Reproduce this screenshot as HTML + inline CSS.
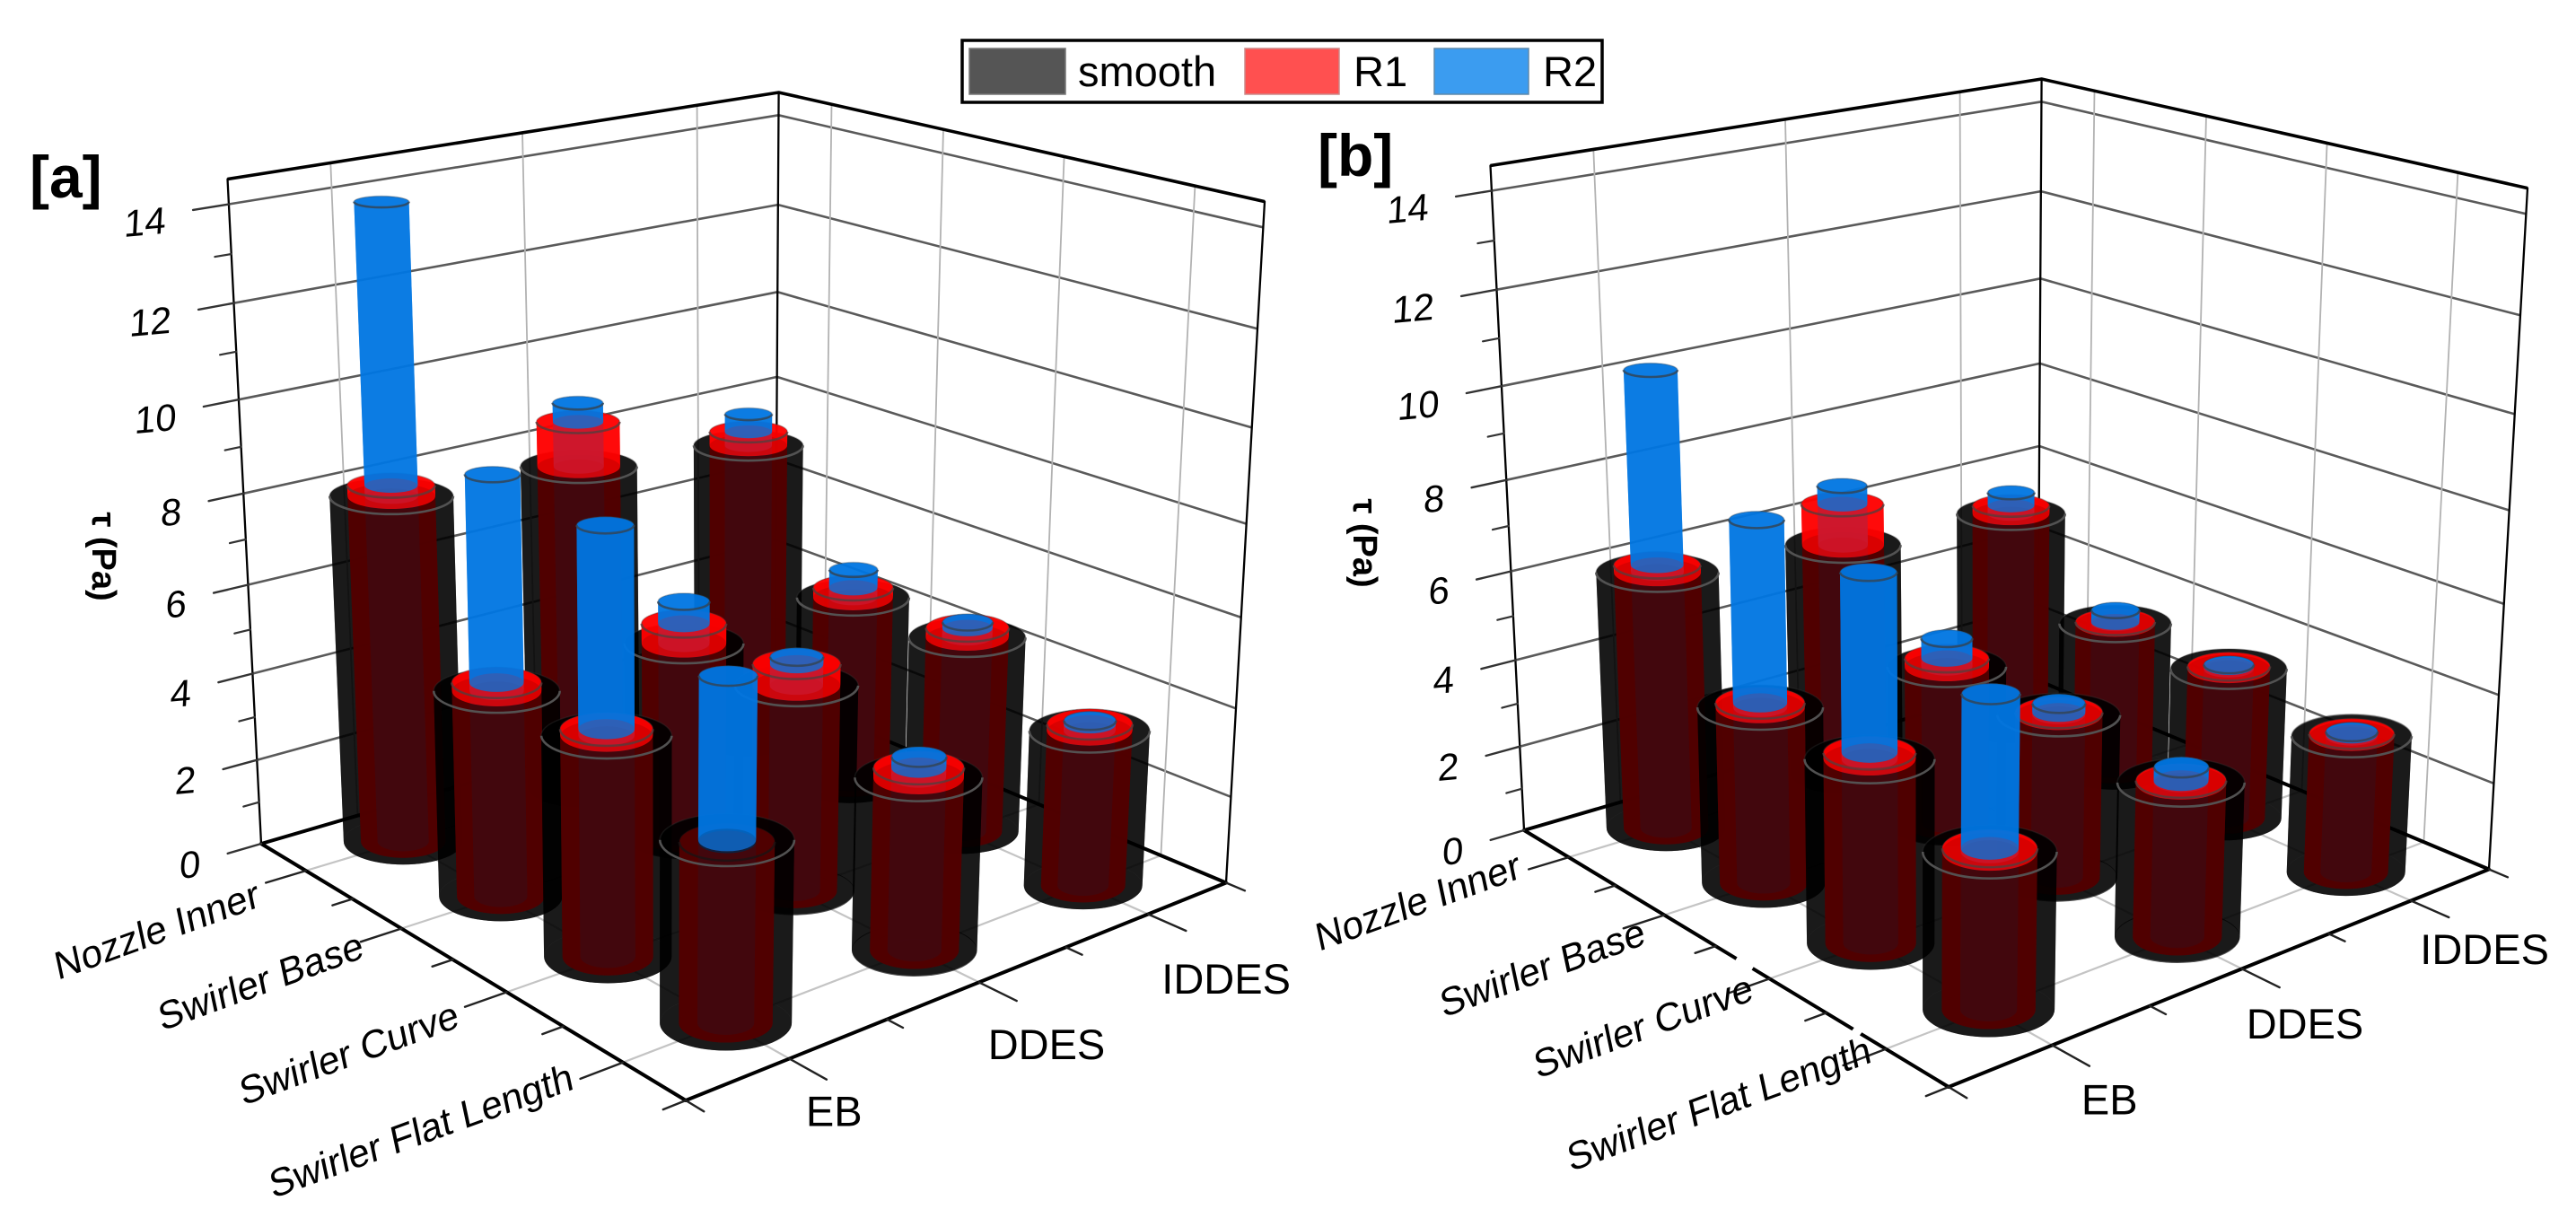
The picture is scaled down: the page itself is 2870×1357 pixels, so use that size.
<!DOCTYPE html>
<html lang="en">
<head>
<meta charset="utf-8">
<title>Wall shear stress 3D bars</title>
<style>
html,body{margin:0;padding:0;background:#fff;}
svg{display:block;font-family:"Liberation Sans",sans-serif;}
</style>
</head>
<body>
<svg id="chart" xmlns="http://www.w3.org/2000/svg" width="2870" height="1357" viewBox="0 0 2870 1357">
  <rect width="2870" height="1357" fill="#fff"/>
  <g id="panelA"></g>
  <g id="panelB" transform="translate(1407,-15)"></g>
  <line x1="1934" y1="1069" x2="1952" y2="1080" stroke="#fff" stroke-width="9"/>
  <line x1="2065" y1="1146" x2="2073" y2="1152" stroke="#fff" stroke-width="9"/>
  <text x="33" y="220" font-size="66" font-weight="bold" fill="#000">[a]</text>
  <text x="1468" y="196" font-size="66" font-weight="bold" fill="#000">[b]</text>
  <text transform="translate(103,620) rotate(90)" text-anchor="middle" font-size="38" font-weight="bold" fill="#000">τ (Pa)</text>
  <text transform="translate(1508,605) rotate(90)" text-anchor="middle" font-size="38" font-weight="bold" fill="#000">τ (Pa)</text>
  <g>
    <rect x="1072" y="45" width="713" height="69" fill="#fff" stroke="#000" stroke-width="3.5"/>
    <rect x="1080" y="54" width="107" height="51" fill="#555" stroke="#777" stroke-width="1.5"/>
    <text x="1201" y="96" font-size="47" fill="#000">smooth</text>
    <rect x="1387" y="54" width="105" height="51" fill="#ff5050" stroke="#c88" stroke-width="1.5"/>
    <text x="1508" y="96" font-size="47" fill="#000">R1</text>
    <rect x="1598" y="54" width="105" height="51" fill="#3b9cf0" stroke="#5e88aa" stroke-width="1.5"/>
    <text x="1719" y="96" font-size="47" fill="#000">R2</text>
  </g>
</svg>
<script>
// ---- chart data (rows: EB, DDES, IDDES; columns: categories) ----
const categories = ["Nozzle Inner", "Swirler Base", "Swirler Curve", "Swirler Flat Length"];
const methods = ["EB", "DDES", "IDDES"];
const yTickValues = [0, 2, 4, 6, 8, 10, 12, 14];
const yTickLabels = ["0", "2", "4", "6", "8", "10", "12", "14"];
const yMinorTicks = [1, 3, 5, 7, 9, 11, 13];
const smoothA = [[7.9, 4.65, 4.81, 3.86], [7.61, 4.54, 4.66, 3.81], [7.19, 4.51, 4.58, 3.55]];
const r1A = [[8.13, 4.83, 4.95, 3.82], [8.61, 4.99, 5.13, 4.02], [7.51, 4.74, 4.8, 3.7]];
const r2A = [[14.02, 9.24, 9.11, 7.15], [9.03, 5.49, 5.29, 4.25], [7.92, 5.16, 4.93, 3.78]];
const smoothB = [[5.93, 3.99, 4.03, 3.34], [5.51, 3.7, 3.71, 3.41], [5.25, 3.57, 3.55, 3.13]];
const r1B = [[6.09, 4.09, 4.16, 3.41], [6.45, 3.89, 3.77, 3.45], [5.44, 3.61, 3.61, 3.18]];
const r2B = [[10.3, 8.02, 7.9, 6.53], [6.87, 4.35, 3.97, 3.74], [5.76, 3.89, 3.65, 3.23]];

// ---- projection: box corners on screen (panel coordinates) ----
const NS = "http://www.w3.org/2000/svg";
const Y_TOP = 14.5;
function homography(p00, p10, p11, p01) {
  const dx1 = p10[0] - p11[0], dx2 = p01[0] - p11[0], sx = p00[0] - p10[0] + p11[0] - p01[0];
  const dy1 = p10[1] - p11[1], dy2 = p01[1] - p11[1], sy = p00[1] - p10[1] + p11[1] - p01[1];
  const den = dx1 * dy2 - dx2 * dy1;
  const g = (sx * dy2 - dx2 * sy) / den, h = (dx1 * sy - sx * dy1) / den;
  const a = p10[0] - p00[0] + g * p10[0], b = p01[0] - p00[0] + h * p01[0], c = p00[0];
  const d = p10[1] - p00[1] + g * p10[1], e = p01[1] - p00[1] + h * p01[1], f = p00[1];
  return function (u, v) {
    const w = g * u + h * v + 1;
    return [(a * u + b * v + c) / w, (d * u + e * v + f) / w];
  };
}
const floorMap = homography([291, 940], [764, 1226], [1366, 983.5], [863.5, 773]);
const topMap = homography([253.5, 199.5], [768.5, 362.5], [1409, 224.6], [867.6, 103]);
function warp(val) {
  const w = val / Y_TOP;
  return w * (0.9 + 0.1 * w);
}
function project(u, v, val) {
  const a = floorMap(u, v), b = topMap(u, v), t = warp(val);
  return [a[0] + (b[0] - a[0]) * t, a[1] + (b[1] - a[1]) * t];
}
function make(tag, attrs, parent) {
  const el = document.createElementNS(NS, tag);
  for (const k in attrs) el.setAttribute(k, attrs[k]);
  parent.appendChild(el);
  return el;
}
function lineAttrs(a, b, color, width) {
  return { x1: a[0].toFixed(1), y1: a[1].toFixed(1), x2: b[0].toFixed(1), y2: b[1].toFixed(1), stroke: color, "stroke-width": width, "stroke-linecap": "round" };
}
function polyAttrs(points, color, width) {
  return { points: points.map(function (p) { return p[0].toFixed(1) + "," + p[1].toFixed(1); }).join(" "), fill: "none", stroke: color, "stroke-width": width, "stroke-linejoin": "round" };
}
function catU(i) { return (i + 0.5) / categories.length; }
function methodV(j) { return (j + 0.5) / methods.length; }

// ---- cylinders ----
const SERIES_STYLE = [
  { name: "smooth", radius: 1, fill: "#000000", alpha: 0.68, rim: "rgba(85,85,85,0.95)" },
  { name: "r1", radius: 0.71, fill: "#ff0000", alpha: 0.80, rim: "rgba(90,60,60,0.75)" },
  { name: "r2", radius: 0.43, fill: "#0076e2", alpha: 0.78, rim: "rgba(50,70,90,0.8)" }
];
function ring(u, v, val, radius) {
  const c = project(u, v, val);
  const base = 66.98 + 9.6 * u - 11.25 * v;
  const rx = radius * base * (1 + 0.075 * warp(val));
  const ratio = Math.min(0.42, 0.29 + 0.00026 * (c[1] - 550));
  return { x: c[0], y: c[1], rx: rx, ry: rx * ratio };
}
function facePath(low, high, front) {
  const s1 = front ? 0 : 1, s2 = front ? 1 : 0;
  return "M" + (high.x - high.rx).toFixed(1) + " " + high.y.toFixed(1) +
    "A" + high.rx.toFixed(1) + " " + high.ry.toFixed(1) + " 0 0 " + s1 + " " + (high.x + high.rx).toFixed(1) + " " + high.y.toFixed(1) +
    "L" + (low.x + low.rx).toFixed(1) + " " + low.y.toFixed(1) +
    "A" + low.rx.toFixed(1) + " " + low.ry.toFixed(1) + " 0 0 " + s2 + " " + (low.x - low.rx).toFixed(1) + " " + low.y.toFixed(1) + "Z";
}
function lowerArc(r) {
  return "M" + (r.x - r.rx).toFixed(1) + " " + r.y.toFixed(1) +
    "A" + r.rx.toFixed(1) + " " + r.ry.toFixed(1) + " 0 0 0 " + (r.x + r.rx).toFixed(1) + " " + r.y.toFixed(1);
}
function drawBar(parent, i, j, heights) {
  const u = catU(i), v = methodV(j);
  const group = make("g", {}, parent);
  
  
  SERIES_STYLE.forEach(function (st) {
    const r = ring(u, v, 0, st.radius);
    const disc = make("ellipse", { cx: r.x.toFixed(1), cy: r.y.toFixed(1), rx: r.rx.toFixed(1), ry: r.ry.toFixed(1), fill: st.fill, "fill-opacity": st.alpha }, group);
    
    
  });
  const levels = Array.from(new Set(heights)).sort(function (a, b) { return a - b; });
  let prev = 0;
  levels.forEach(function (level) {
    const active = [];
    SERIES_STYLE.forEach(function (st, k) { if (heights[k] >= level) active.push(k); });
    active.forEach(function (k) {
      const st = SERIES_STYLE[k];
      const back = make("path", { d: facePath(ring(u, v, prev, st.radius), ring(u, v, level, st.radius), false), fill: st.fill, "fill-opacity": st.alpha }, group);
      
      
    });
    active.slice().reverse().forEach(function (k) {
      const st = SERIES_STYLE[k];
      const front = make("path", { d: facePath(ring(u, v, prev, st.radius), ring(u, v, level, st.radius), true), fill: st.fill, "fill-opacity": st.alpha }, group);
      
      
    });
    active.slice().reverse().forEach(function (k) {
      if (heights[k] !== level) return;
      const st = SERIES_STYLE[k];
      const r = ring(u, v, level, st.radius);
      const cap = make("ellipse", { cx: r.x.toFixed(1), cy: r.y.toFixed(1), rx: r.rx.toFixed(1), ry: r.ry.toFixed(1), fill: st.fill, "fill-opacity": st.alpha, stroke: "rgba(60,60,60,0.3)", "stroke-width": 1.5 }, group);
      
      
      const rim = make("path", { d: lowerArc(r), fill: "none", stroke: st.rim, "stroke-width": 2.6 }, group);
      
      
    });
    prev = level;
  });
}

// ---- panel ----
function buildPanel(parent, smooth, r1, r2, catOffsets, methodOffsets) {
  // walls
  yTickValues.forEach(function (val) {
    const g = make("polyline", polyAttrs([project(0, 0, val), project(0, 1, val), project(1, 1, val)], "#5a5a5a", 2.6), parent);
    
    
  });
  methods.forEach(function (m, j) {
    const g = make("line", lineAttrs(project(0, methodV(j), 0), project(0, methodV(j), Y_TOP), "#b2b2b2", 1.8), parent);
    
    
    const f = make("line", lineAttrs(project(0, methodV(j), 0), project(1, methodV(j), 0), "#c4c4c4", 2.2), parent);
    
    
  });
  categories.forEach(function (c, i) {
    const g = make("line", lineAttrs(project(catU(i), 1, 0), project(catU(i), 1, Y_TOP), "#b2b2b2", 1.8), parent);
    
    
    const f = make("line", lineAttrs(project(catU(i), 0, 0), project(catU(i), 1, 0), "#c4c4c4", 2.2), parent);
    
    
  });
  // frame
  const topEdge = make("polyline", polyAttrs([project(0, 0, Y_TOP), project(0, 1, Y_TOP), project(1, 1, Y_TOP)], "#000", 3.6), parent);
  
  
  [[0, 0], [0, 1], [1, 1]].forEach(function (q) {
    const edge = make("line", lineAttrs(project(q[0], q[1], 0), project(q[0], q[1], Y_TOP), "#000", 2.3), parent);
    
    
  });
  const floorEdge = make("polygon", polyAttrs([project(0, 0, 0), project(1, 0, 0), project(1, 1, 0), project(0, 1, 0)], "#000", 4), parent);
  
  

  // y ticks
  yTickValues.forEach(function (val, k) {
    const end = project(0, -0.056, val);
    const t = make("line", lineAttrs(project(0, 0, val), end, "#333", 2.4), parent);
    
    
    const lab = make("text", { transform: "translate(" + (end[0] - 31).toFixed(1) + "," + (end[1] + 26).toFixed(1) + ") rotate(-5) skewX(-8)", "text-anchor": "end", "font-size": 42, fill: "#000" }, parent);
    lab.textContent = yTickLabels[k];
    
    
  });
  yMinorTicks.forEach(function (val) {
    const t = make("line", lineAttrs(project(0, 0, val), project(0, -0.026, val), "#333", 2.2), parent);
    
    
  });
  // category ticks and labels
  categories.forEach(function (c, i) {
    const end = project(catU(i), -0.066, 0);
    const t = make("line", lineAttrs(project(catU(i), 0, 0), end, "#222", 2.4), parent);
    
    
    if (i > 0) {
      const mt = make("line", lineAttrs(project(i / categories.length, 0, 0), project(i / categories.length, -0.033, 0), "#222", 2.4), parent);
      
      
    }
    const lab = make("text", { transform: "translate(" + (end[0] + catOffsets[i][0]).toFixed(1) + "," + (end[1] + catOffsets[i][1]).toFixed(1) + ") rotate(-20) skewX(-8)", "text-anchor": "end", "font-size": 43, fill: "#000" }, parent);
    lab.textContent = c;
    
    
  });
  // method ticks and labels
  methods.forEach(function (m, j) {
    const end = project(1.07, methodV(j), 0);
    const t = make("line", lineAttrs(project(1, methodV(j), 0), end, "#222", 2.4), parent);
    
    
    if (j > 0) {
      const mt = make("line", lineAttrs(project(1, j / methods.length, 0), project(1.03, j / methods.length, 0), "#222", 2.4), parent);
      
      
    }
    const lab = make("text", { x: (end[0] + methodOffsets[j][0]).toFixed(1), y: (end[1] + methodOffsets[j][1]).toFixed(1), "font-size": 47, fill: "#000" }, parent);
    lab.textContent = m;
    
    
  });
  // corner ticks
  [[[1, 0], [1, -0.035]], [[1, 0], [1.035, 0]], [[1, 1], [1.035, 1]]].forEach(function (q) {
    const t = make("line", lineAttrs(project(q[0][0], q[0][1], 0), project(q[1][0], q[1][1], 0), "#222", 2.4), parent);
    
    
  });

  // bars, painted far to near
  const order = [];
  methods.forEach(function (m, j) {
    categories.forEach(function (c, i) {
      order.push({ i: i, j: j, y: project(catU(i), methodV(j), 0)[1] });
    });
  });
  order.sort(function (a, b) { return a.y - b.y; });
  order.forEach(function (o) {
    drawBar(parent, o.i, o.j, [smooth[o.j][o.i], r1[o.j][o.i], r2[o.j][o.i]]);
  });
}

buildPanel(document.getElementById("panelA"), smoothA, r1A, r2A,
  [[-5, 26], [5, 17], [-5, 22], [-6, 11]],
  [[-23, 52], [-32, 65], [-27, 70]]);
buildPanel(document.getElementById("panelB"), smoothB, r1B, r2B,
  [[-7, 9], [26, 17], [30, 7], [33, -4]],
  [[-9, 54], [-37, 57], [-32, 52]]);
</script>
</body>
</html>
